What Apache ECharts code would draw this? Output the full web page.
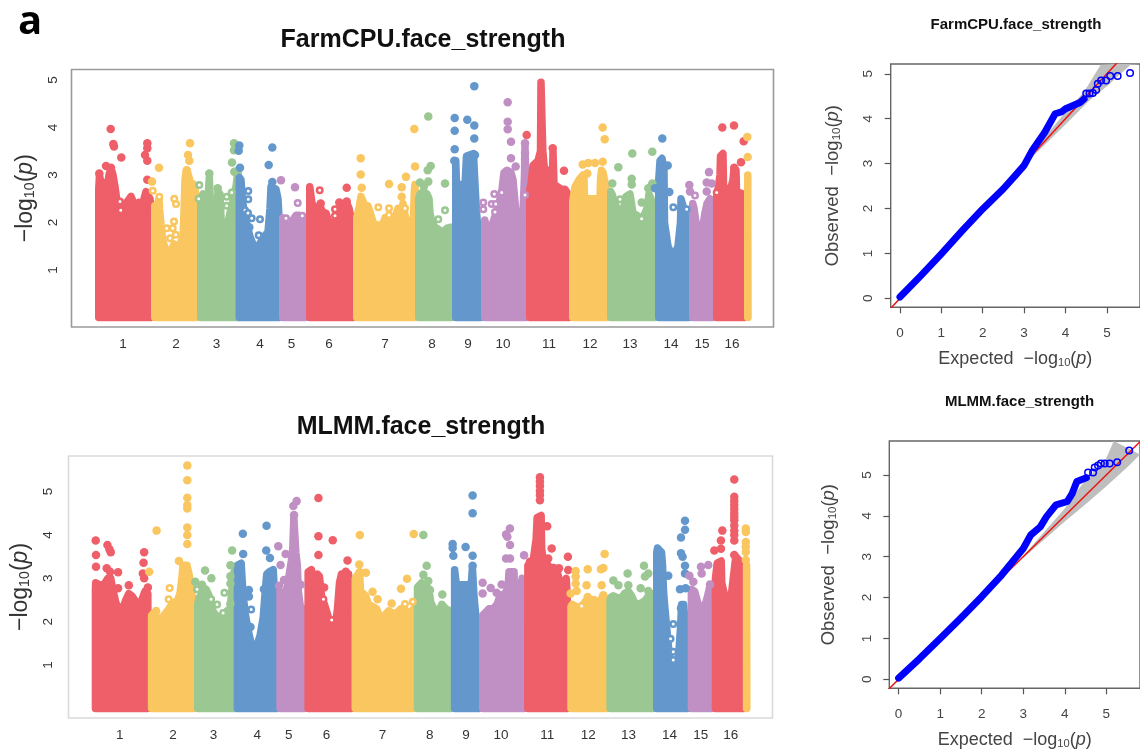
<!DOCTYPE html>
<html>
<head>
<meta charset="utf-8">
<style>
html,body{margin:0;padding:0;background:#fff;overflow:hidden}
#chart{width:1140px;height:751px;filter:blur(0.4px)}
</style>
<script src="https://cdn.jsdelivr.net/npm/echarts@6/dist/echarts.min.js"></script>
</head>
<body>
<div id="chart"></div>
<script>
const chromLabels = ['1','2','3','4','5','6','7','8','9','10','11','12','13','14','15','16'];
const chromLabelPos = [28,81,121.5,165,196.5,234,290,337,373,408,454,495,535,576,607,637];
const chromColors = ['#EE5F6A','#FAC65F','#9AC792','#6498CC','#C08FC3'];
const manhattanYTicks = [1,2,3,4,5];
const qqTicks = [0,1,2,3,4,5];

// Upper outline of the densely packed SNP cloud per chromosome: [genome position, -log10(p)]
const farmTops = [
 [[0,2.2],[3.8,2.7],[4.5,3.0],[6,2.8],[8,2.7],[11,2.5],[12,2.7],[14,3.0],[16,3.15],[18,3.0],[20,2.75],[21,2.6],[22,2.4],[23,2.3],[25,2.4],[28,2.2],[31,2.4],[33,2.4],[36,2.55],[39,2.4],[41,2.3],[44,2.42],[47,2.35],[49,2.5],[51,2.65],[53,2.65],[55,2.5],[56,2.3]],
 [[56,2.2],[60,2.35],[62,2.35],[64,2.5],[64.5,2.3],[66,1.95],[68,1.6],[71,1.4],[74,1.35],[77,1.45],[79,1.55],[82,1.5],[84,1.4],[86,1.6],[88,1.7],[89,2.2],[90,2.9],[91,3.05],[92,3.1],[94,2.95],[96,2.75],[98,2.65],[100,2.7],[102,2.3]],
 [[102,2.3],[106,2.5],[108,2.6],[110,2.4],[113,2.5],[114.3,2.95],[115,2.95],[115.5,2.4],[118,2.2],[120,2.2],[122,2.3],[123,2.65],[125,2.6],[126,2.1],[128,1.75],[131,1.75],[133,2.0],[135,2.2],[137,2.35],[139,2.6],[141,2.75],[143,3.1],[144,2.4]],
 [[140.5,2.2],[144.3,2.95],[146,2.9],[147,2.6],[149,2.2],[152,1.95],[155,1.7],[158,1.55],[161,1.4],[163,1.4],[166,1.6],[169,1.7],[173,1.8],[175,2.3],[176,2.75],[178,2.75],[181,2.7],[183,2.5],[184,2.1]],
 [[184,2.0],[188,2.1],[190,1.95],[192,1.85],[195,1.9],[198,2.05],[201,2.15],[204,2.15],[207,2.1],[208,2.0],[210,1.6],[211,1.4]],
 [[211,1.8],[215,2.75],[216.5,2.75],[217,2.4],[222,2.25],[225,2.35],[228,2.2],[231,2.2],[234,2.0],[236,1.85],[239,1.95],[241,2.1],[244,2.15],[247,2.4],[250,2.35],[252,2.4],[254,2.3],[256,2.1],[258,1.9]],
 [[258,1.9],[262,2.1],[264,2.3],[266,2.55],[270,2.35],[273,2.35],[276,2.15],[279,1.95],[283,1.95],[286,1.85],[290,2.1],[293,2.0],[297,1.95],[300,2.1],[303,2.3],[306,2.1],[308,2.4],[310,2.15],[312,2.0],[315,1.85],[318,1.9],[319.5,2.7],[320,2.8],[320.5,2.2]],
 [[320,2.1],[324,2.5],[325,2.6],[328,2.65],[332,2.6],[334,2.5],[335,2.2],[337,2.0],[340,1.9],[344,1.85],[348,1.8],[352,1.88],[356,1.9],[357,1.8]],
 [[357,2.2],[360.8,3.3],[361.2,3.3],[361.5,2.8],[370,2.8],[371.5,3.4],[378.5,3.45],[379.5,3.0],[381,2.4],[383,1.8],[386,1.7]],
 [[386,1.7],[390,2.05],[392,1.85],[395,1.9],[398,2.0],[401,2.2],[404,2.4],[407,2.7],[409,3.05],[412,3.1],[416,3.05],[418,2.9],[420,2.9],[421,2.2],[428,2.2],[429.5,3.0],[430,3.6],[430.5,3.6],[431,2.5]],
 [[431,2.5],[435,2.7],[436,2.8],[438,3.2],[443,3.3],[445.5,3.5],[446,4.95],[447.3,4.95],[447.8,3.5],[450,3.0],[452,3.05],[454.5,3.1],[457.5,3.0],[458,3.5],[458.5,3.5],[459,2.8],[466,2.7],[470,2.7],[473,2.6],[474,2.2]],
 [[474,2.2],[478,2.45],[480,2.75],[484,2.9],[488,3.0],[489,2.95],[489.5,2.5],[505,2.5],[505.5,2.9],[506.5,3.1],[508,3.05],[511,2.75],[512,2.4]],
 [[512,2.4],[516,2.65],[517,2.6],[520,2.4],[524,2.2],[528,2.25],[531,2.55],[535,2.6],[538,2.2],[542,2.15],[546,2.1],[549,2.15],[552,2.3],[554,2.6],[556,2.5],[558,2.3],[560,2.1]],
 [[560,2.1],[564,2.9],[565,3.3],[567,3.35],[569,3.1],[569.5,2.0],[573,1.5],[578,1.25],[583,1.5],[585.5,2.0],[586,2.5],[588,2.5],[590,2.2],[592,1.95],[594,1.7]],
 [[594,1.7],[598,2.4],[599,2.3],[601,2.0],[603,1.9],[606,1.8],[608,1.95],[610,2.2],[612,2.4],[615,2.5],[618,2.4]],
 [[618,2.4],[622,2.6],[623,2.7],[625,3.0],[625.5,3.4],[628,3.45],[628.5,2.8],[631,2.65],[635,2.65],[638,2.9],[639,3.15],[641,3.1],[641.5,2.65],[648,2.6],[650,2.5]],
 [[649,2.9],[653,3.0]]
];
// Isolated solid points per chromosome
const farmPeaks = [
 [[15.7,3.97],[18.3,3.65],[19,3.6],[26.3,3.37],[52.3,3.67],[52.3,3.56],[50,3.42],[52.3,3.3],[52.3,2.9],[11,3.19],[16,3.15],[4.3,3.03],[6.7,2.85],[15.7,2.96]],
 [[64,3.15],[57,2.86],[95,3.67],[93,3.42],[94.3,3.3],[91.7,3.1],[98.3,2.8]],
 [[139,3.67],[139,3.52],[137,3.26],[139.3,3.07],[114.3,3.03],[122.7,2.72]],
 [[144.3,3.62],[143.7,3.51],[145,3.15],[177.3,3.58],[173.7,3.21],[177.3,2.85],[154.3,1.9]],
 [[186,2.89],[200,2.74]],
 [[251.7,2.73],[225.7,2.4],[244.3,2.42],[251.7,2.44]],
 [[319.3,3.97],[320,3.18],[265.7,3.35],[265.7,3.01],[266.7,2.73],[294,2.81],[311,2.96],[306.7,2.74],[306.7,2.54]],
 [[333.3,4.23],[335.7,3.19],[332.7,3.1],[333.3,2.86],[350,2.82],[325,2.84],[329,2.76]],
 [[379.3,4.87],[359.7,4.2],[359.7,3.93],[372.3,4.16],[379.3,4.04],[379.3,3.77],[359.7,3.54],[380,3.42],[359.3,3.3]],
 [[412.7,4.53],[412.7,4.12],[412.7,3.96],[416,3.7],[416,3.35],[420.7,3.18],[430,3.67],[430,3.46],[430,3.32]],
 [[431.7,3.84],[469,3.09],[457.7,3.56]],
 [[507.7,4.0],[509.7,3.75],[507.7,3.28],[500,3.25],[493.3,3.25],[487.7,3.22],[492.3,3.03]],
 [[537.3,3.45],[557.3,3.49],[523.3,3.16],[517.3,2.82],[536.7,2.92],[536.7,2.8],[553.3,2.72],[557.3,2.82],[546.7,2.42]],
 [[567.3,3.77],[572.7,3.2],[574.3,2.64],[560,2.72]],
 [[614,3.06],[594.3,2.79],[611.7,2.84],[616.7,2.82],[611.7,2.65],[595,2.65]],
 [[627.3,4.0],[639,4.04],[648.7,3.71],[646,3.27],[639.3,3.15]],
 [[652.3,3.8],[652.7,3.38]]
];
// Isolated points that read as rings in the original
const farmRings = [
 [[25,2.44],[25.7,2.26]],
 [[57.7,2.67],[64.3,2.54],[79.3,2.5],[81,2.39],[71.7,1.88],[79,2.02],[77.7,1.88],[75,1.67],[80.7,1.74]],
 [[104.3,2.79],[103.7,2.5],[131.7,2.54],[131.7,2.35],[136.7,2.63]],
 [[153.3,2.66],[153.3,2.49],[156.7,2.09],[165,2.07],[163.7,1.73],[150,2.26],[153,2.2]],
 [[202.7,2.41],[191,2.09],[207.3,2.14]],
 [[224.7,2.68],[240,2.28],[240,2.14]],
 [[310,2.3],[283.3,2.32],[294,2.3],[294,2.16]],
 [[350,2.26],[343.3,2.07]],
 [],
 [[388.3,2.42],[388.3,2.28],[399.3,2.6],[406.7,2.63],[396.7,2.39],[400.7,2.39],[400,2.22],[430,2.58]],
 [],
 [],
 [[546.7,2.08],[525,2.49]],
 [[578.3,2.32],[591.7,2.28]],
 [[600,2.57]],
 [[621.7,2.63]],
 []
];

const mlmmTops = [
 [[0,2.3],[3.8,2.75],[4,2.9],[8,2.85],[12,2.85],[16,3.0],[19,3.0],[21,2.75],[24,2.45],[27,2.3],[31,2.3],[34,2.5],[37,2.65],[40,2.6],[43,2.5],[46,2.35],[50,2.5],[53,2.7],[56,2.65]],
 [[56,2.2],[60,2.15],[62,2.2],[65,2.1],[69,2.05],[72,2.15],[77,2.3],[81,2.45],[85,2.45],[88,2.65],[90,3.0],[91,3.3],[95,3.3],[97,3.1],[99,2.8],[102,2.3]],
 [[102,2.3],[106,2.4],[107,2.55],[111,2.7],[114,2.75],[117,2.6],[119,2.35],[122,2.2],[126,2.1],[130,2.0],[133,2.1],[135,2.25],[138,2.3],[140,2.8],[141,3.1],[143,3.2]],
 [[141.5,2.5],[145.3,3.3],[149,3.35],[150,2.95],[151.5,2.5],[153,2.2],[156,1.8],[159,1.5],[162,1.4],[164,1.4],[168,1.7],[171,2.1],[173,2.7],[174.5,3.1],[177,3.15],[181,3.2],[182,2.7],[185,2.2]],
 [[184,3.0],[188,2.7],[191,2.55],[194,2.7],[197,3.1],[199,3.4],[200.5,3.7],[201.5,4.4],[202.5,4.4],[203.5,3.6],[205,3.3],[206,2.7],[208,2.35],[211,2.3],[212,2.1]],
 [[212,2.3],[216,3.15],[219,3.2],[222,2.9],[225,3.1],[227,3.05],[229,2.6],[232,2.4],[236,2.1],[239,1.95],[242,1.75],[245,2.3],[247,2.9],[249,3.1],[253,3.1],[256,3.1],[258,2.7],[259,2.2]],
 [[259,2.2],[263,3.0],[267,3.15],[268,2.7],[273,2.6],[276,2.4],[280,2.35],[284,2.3],[288,2.05],[292,2.15],[296,2.25],[300,2.2],[304,2.2],[308,2.3],[312,2.3],[316,2.1],[319,2.25],[321,2.3]],
 [[321,2.3],[325,2.8],[329,2.9],[333,2.85],[336,2.75],[338,2.45],[342,2.25],[345,2.2],[349,2.4],[353,2.3],[357,2.25],[358,2.2]],
 [[358,2.2],[362,3.2],[363,3.2],[363.5,2.85],[375,2.85],[378.5,2.9],[379.5,3.25],[380.5,3.25],[381,2.6],[383,2.1],[385,1.9],[386,1.8]],
 [[386,2.0],[390,2.15],[392,2.2],[396,2.3],[400,2.3],[404,2.4],[407,2.6],[412,2.65],[415,2.8],[416,3.15],[421,3.15],[421.5,2.5],[426,2.55],[428,2.8],[429,3.0],[431,2.9]],
 [[431,2.9],[435,3.3],[438,3.35],[440,3.4],[443,3.9],[444,4.4],[448,4.45],[448.5,3.7],[450,3.4],[453,3.35],[457,3.25],[461,3.25],[464,3.15],[467,2.9],[469,2.6],[471,2.85],[473,3.0],[474,2.6]],
 [[474,2.3],[478,2.35],[479,2.4],[483,2.35],[486,2.3],[490,2.4],[493,2.5],[496,2.45],[500,2.4],[504,2.45],[507,2.5],[510,2.6],[513,2.4]],
 [[513,2.4],[517,2.55],[520,2.6],[524,2.55],[528,2.55],[531,2.65],[535,2.7],[538,2.6],[541,2.45],[545,2.4],[549,2.45],[552,2.5],[555,2.6],[558,2.65],[560,2.6]],
 [[559.5,2.6],[563.3,3.6],[564,3.7],[568,3.6],[569,3.3],[570,2.7],[571,2.4],[573,1.9],[575,1.4],[578,0.8],[581,0.4],[583,0.5],[585,1.2],[587,1.9],[588,2.4],[590,2.4],[591,2.1],[594,1.6]],
 [[594,1.9],[598,2.75],[601,2.7],[604,2.45],[607,2.3],[611,2.35],[614,2.6],[616,2.8],[618,2.85]],
 [[618,2.8],[622,3.0],[623.5,3.35],[627.5,3.4],[628,2.9],[630,2.7],[632,2.4],[635,2.4],[638,2.7],[640,3.1],[642,3.5],[646,3.4],[648,3.3],[650,3.3]],
 [[649,3.2],[653,3.3]]
];
const mlmmPeaks = [
 [[4,3.87],[15.7,3.77],[17.7,3.67],[19,3.6],[4.3,3.54],[4.3,3.27],[15,3.23],[18.3,3.15],[26.3,3.14],[52.3,3.6],[51.7,3.36],[51,3.11],[52.3,3.0],[37,2.84],[26.3,2.77],[56,2.79]],
 [[95.3,5.6],[95.3,5.26],[95.3,4.86],[95.3,4.69],[95.3,4.61],[95.3,4.17],[95.3,4.0],[95.3,3.79],[64.7,4.1],[87,3.4],[57.3,3.15],[64.3,2.25],[90,2.96]],
 [[140,3.64],[113,3.18],[119.3,3.0],[103.3,2.92],[110,2.85],[138.3,3.3],[138.3,3.05],[138.3,2.88],[138.3,2.42]],
 [[150.7,4.03],[174.3,4.21],[174,3.64],[151,3.56],[177.7,3.47],[156.7,2.73],[156.7,2.58],[171.7,2.75],[158.3,1.88]],
 [[201,4.67],[204.3,4.78],[201.7,4.46],[186,3.74],[193.3,3.56],[188.3,3.31],[191.7,2.96],[186.7,2.83],[208.3,2.85]],
 [[226,4.85],[226,3.97],[240.3,3.88],[226,3.54],[255,3.41],[231.7,2.79],[253.3,3.15]],
 [[267.3,4.0],[321,4.02],[266.7,3.32],[267.3,3.14],[273.3,3.13],[314.3,2.99],[308.3,2.76],[280,2.69],[285,2.52],[299,2.42]],
 [[330.6,4.0],[333.9,3.29],[330.6,3.08],[335.5,2.94],[337.2,2.73],[349.5,2.63]],
 [[379.7,4.91],[379.7,4.5],[359.8,3.79],[359.8,3.7],[360.5,3.52],[372.7,3.72],[379.7,3.52],[379.7,3.29]],
 [[416.9,4.15],[413,4.01],[414.3,3.96],[417,3.77],[413,3.46],[417,3.46],[431,3.53],[389.7,2.9],[389.7,2.65],[397.7,2.78],[403.6,2.67],[408.6,2.86]],
 [[446.8,5.33],[446.8,5.23],[446.8,5.13],[446.8,5.02],[446.8,4.92],[446.8,4.8],[454,4.2],[458.5,3.69],[474.7,3.5],[465.8,3.23],[455,3.46],[475,3.19],[436.8,3.38]],
 [[511.3,3.56],[494.4,3.21],[507.6,3.21],[510,3.24],[482.4,3.17],[482.4,3.04],[482.4,2.88],[493.3,2.84],[508.3,2.84],[483.4,2.71],[477.4,2.65],[494.4,2.57],[510,2.61],[500.6,2.5]],
 [[550.5,3.29],[534.2,3.11],[554.8,3.11],[551.5,3.04],[520,2.95],[525,2.84],[534.9,2.84],[547.2,2.77],[554.8,2.71]],
 [[591.4,4.33],[591.4,4.12],[587.4,3.94],[587.4,3.58],[589,3.5],[591.4,3.29],[591.4,3.11],[574.7,3.06],[586.4,2.75],[592,2.77],[587.4,2.31]],
 [[595.7,3.06],[599.7,2.92],[607.3,3.27],[614.6,3.31],[608,3.11],[616.3,2.86]],
 [[640.5,5.28],[640.5,4.88],[640.5,4.78],[640.5,4.69],[640.5,4.6],[640.5,4.5],[640.5,4.42],[640.5,4.34],[640.5,4.22],[640.5,4.1],[640.5,4.0],[640.5,3.87],[628.6,4.1],[627.2,3.87],[620.6,3.64],[627.2,3.68],[640.5,3.54]],
 [[652,4.15],[652,4.07],[652,3.84],[652,3.73],[652,3.61],[652,3.42]]
];
const mlmmRings = [
 [],
 [[77.7,2.78],[76.7,2.52]],
 [[105,2.75],[132.3,2.67],[119,2.52],[125,2.4],[131,2.2]],
 [[159,2.28]],
 [],
 [[231,2.52],[239.3,2.04]],
 [[312.3,2.41],[320,2.46]],
 [],
 [],
 [],
 [],
 [[488.4,2.36]],
 [],
 [[579.7,1.95],[577,1.61],[579.7,1.31],[579.7,1.12]],
 [],
 [],
 []
];

// QQ plots: [expected, observed]
const farmQQLine = [[0,0.03],[0.5,0.5],[1,0.99],[1.5,1.5],[2,1.99],[2.5,2.44],[2.8,2.75],[3,2.96],[3.2,3.3],[3.5,3.7],[3.75,4.11],[3.9,4.15],[4,4.22],[4.2,4.3],[4.35,4.36],[4.45,4.44]];
const farmQQTail = [[4.5,4.56],[4.58,4.56],[4.66,4.57],[4.74,4.64],[4.78,4.78],[4.86,4.85],[4.98,4.85],[5.08,4.95],[5.26,4.95],[5.56,5.02]];
const farmBandUpper = [[3,3.03],[4,4.15],[4.45,4.6],[4.85,5.2],[5.2,5.9]];
const farmBandLower = [[5.9,5.45],[5.57,5.2],[5,4.72],[4.57,4.4],[4,3.87],[3,2.97]];
const mlmmQQLine = [[0,0.03],[0.5,0.5],[1,1],[1.5,1.5],[2,2.02],[2.48,2.55],[3,3.2],[3.18,3.53],[3.41,3.73],[3.56,3.98],[3.79,4.27],[4.06,4.35],[4.18,4.55],[4.29,4.84],[4.52,4.93]];
const mlmmQQTail = [[4.56,5.06],[4.68,5.06],[4.72,5.18],[4.8,5.23],[4.87,5.28],[4.96,5.28],[5.08,5.28],[5.26,5.31],[5.55,5.6]];
const mlmmBandUpper = [[3,3.02],[4,4.18],[4.4,4.75],[4.98,5.37],[5.18,5.85]];
const mlmmBandLower = [[5.82,5.5],[5.56,5.24],[5,4.72],[4.5,4.28],[4,3.86],[3,2.97]];
const identityLine = [[-0.3,-0.3],[6,6]];

const FONT = '"Liberation Sans", Arial, sans-serif';
const EDGE = 3.75;
const TEXT = '#333';

function outline(pts){
  const base = pts[0][0] + EDGE;
  const inner = pts.filter(p => p[0] >= base);
  const last = inner[inner.length-1][0];
  return [[base,0],[base,inner[0][1]],...inner,[last,0],[base,0]];
}
const logRich = (size,color) => ({
  n:{fontSize:size,fontFamily:FONT,color:color},
  s:{fontSize:size*0.62,fontFamily:FONT,color:color,verticalAlign:'bottom',padding:[size*0.45,0,0,0]},
  i:{fontSize:size,fontFamily:FONT,color:color,fontStyle:'italic'}
});
const LOG = '{n|\u2212log}{s|10}{n|(}{i|p}{n|)}';

const grids = [
 {left:71.5,top:69.5,width:702,height:257.5,show:true,borderColor:'#9a9a9a',borderWidth:1.6,backgroundColor:'#fff'},
 {left:68.5,top:456,width:704,height:262,show:true,borderColor:'#dadada',borderWidth:1.6,backgroundColor:'#fff'},
 {left:890.7,top:64,width:250.6,height:243.3,show:true,borderColor:'#666',borderWidth:1.4,backgroundColor:'#fff'},
 {left:889.3,top:441,width:261.4,height:247.3,show:true,borderColor:'#666',borderWidth:1.4,backgroundColor:'#fff'}
];
const manhattanX = (i,min,max) => ({
  type:'value',gridIndex:i,min:min,max:max,splitLine:{show:false},axisLine:{show:false,onZero:false},axisTick:{show:false},
  axisLabel:{customValues:chromLabelPos,margin:10,fontSize:13.5,fontFamily:FONT,color:TEXT,
    formatter:v => chromLabels[chromLabelPos.indexOf(v)]}
});
const manhattanY = (i,min,max,gap,margin) => ({
  type:'value',gridIndex:i,min:min,max:max,splitLine:{show:false},axisLine:{show:false,onZero:false},axisTick:{show:false},
  axisLabel:{customValues:manhattanYTicks,rotate:90,margin:margin,fontSize:13.5,fontFamily:FONT,color:TEXT,formatter:v=>String(v)},
  name:LOG,nameLocation:'middle',nameRotate:90,nameGap:gap,nameTextStyle:{rich:logRich(23,TEXT)}
});
const qqX = (i,min,max,gap) => ({
  type:'value',gridIndex:i,min:min,max:max,splitLine:{show:false},axisLine:{show:false,onZero:false},
  axisTick:{show:true,customValues:qqTicks,length:6,lineStyle:{color:'#555',width:1.2}},
  axisLabel:{customValues:qqTicks,margin:19,fontSize:13.5,fontFamily:FONT,color:'#444',formatter:v=>String(v)},
  name:'{n|Expected  }'+LOG,nameLocation:'middle',nameGap:gap,nameTextStyle:{rich:logRich(18,'#444')}
});
const qqY = (i,min,max,gap) => ({
  type:'value',gridIndex:i,min:min,max:max,splitLine:{show:false},axisLine:{show:false,onZero:false},
  axisTick:{show:true,customValues:qqTicks,length:6,lineStyle:{color:'#555',width:1.2}},
  axisLabel:{customValues:qqTicks,rotate:90,margin:15,fontSize:13.5,fontFamily:FONT,color:'#444',formatter:v=>String(v)},
  name:'{n|Observed  }'+LOG,nameLocation:'middle',nameRotate:90,nameGap:gap,nameTextStyle:{rich:logRich(18.5,'#444')}
});

function manhattanSeries(i,tops,peaks,rings){
  const out = [];
  tops.forEach((t,c)=>{
    const col = chromColors[c%5];
    out.push({type:'line',xAxisIndex:i,yAxisIndex:i,data:outline(t),showSymbol:false,symbol:'none',silent:true,
      lineStyle:{color:col,width:EDGE*2,join:'round',cap:'round'},areaStyle:{color:col,opacity:1},z:2+c*0.001});
  });
  peaks.forEach((p,c)=>{
    if(p.length) out.push({type:'scatter',xAxisIndex:i,yAxisIndex:i,data:p,symbolSize:8.5,silent:true,
      itemStyle:{color:chromColors[c%5],opacity:1},z:3});
  });
  rings.forEach((p,c)=>{
    if(p.length) out.push({type:'scatter',xAxisIndex:i,yAxisIndex:i,data:p,symbolSize:5.5,silent:true,
      itemStyle:{color:'#fff',borderColor:chromColors[c%5],borderWidth:2.5,opacity:1},z:3});
  });
  return out;
}
function qqSeries(i,line,tail,upper,lower){
  const band = upper.concat(lower);
  return [
   {type:'custom',xAxisIndex:i,yAxisIndex:i,data:band,silent:true,z:2,
    renderItem:(params,api)=>{
      if(params.dataIndex!==0) return null;
      const pts = echarts.graphic.clipPointsByRect(band.map(p=>api.coord(p)),params.coordSys);
      return {type:'polygon',shape:{points:pts},style:{fill:'#bebebe'}};
    }},
   {type:'line',xAxisIndex:i,yAxisIndex:i,data:identityLine,showSymbol:false,symbol:'none',silent:true,
    lineStyle:{color:'#f01010',width:1.5},z:3},
   {type:'line',xAxisIndex:i,yAxisIndex:i,data:line,showSymbol:false,symbol:'none',silent:true,
    lineStyle:{color:'#0000ff',width:7,join:'round',cap:'round'},z:4},
   {type:'scatter',xAxisIndex:i,yAxisIndex:i,data:tail,symbolSize:6.5,silent:true,
    itemStyle:{color:'rgba(0,0,0,0)',borderColor:'#0000ff',borderWidth:1.5,opacity:1},z:5}
  ];
}
const titleAt = (text,x,y,size) => ({text:text,left:x,top:y,padding:0,textAlign:'center',textVerticalAlign:'middle',
  textStyle:{fontFamily:FONT,fontWeight:'bold',fontSize:size,color:'#111'}});

const chart = echarts.init(document.getElementById('chart'),null,{renderer:'canvas'});
chart.setOption({
  animation:false,
  backgroundColor:'#fff',
  title:[
    titleAt('FarmCPU.face_strength',423,40,25),
    titleAt('MLMM.face_strength',421,427,25),
    titleAt('FarmCPU.face_strength',1016,25,15),
    titleAt('MLMM.face_strength',1019.5,402,15),
    {text:'a',left:30,top:23,padding:0,textAlign:'center',textVerticalAlign:'middle',
     textStyle:{fontFamily:'"Open Sans",sans-serif',fontWeight:'bold',fontSize:40,color:'#000'}}
  ],
  grid:grids,
  xAxis:[manhattanX(0,-23.5,678.5),manhattanX(1,-23.1,678.6),qqX(2,-0.224,5.8,42),qqX(3,-0.224,5.81,42)],
  yAxis:[manhattanY(0,-0.2,5.22,34,11),manhattanY(1,-0.219,5.82,36,13),qqY(2,-0.2,5.218,48),qqY(3,-0.22,5.83,51)],
  series:[
    ...manhattanSeries(0,farmTops,farmPeaks,farmRings),
    ...manhattanSeries(1,mlmmTops,mlmmPeaks,mlmmRings),
    ...qqSeries(2,farmQQLine,farmQQTail,farmBandUpper,farmBandLower),
    ...qqSeries(3,mlmmQQLine,mlmmQQTail,mlmmBandUpper,mlmmBandLower)
  ]
});
</script>
</body>
</html>
